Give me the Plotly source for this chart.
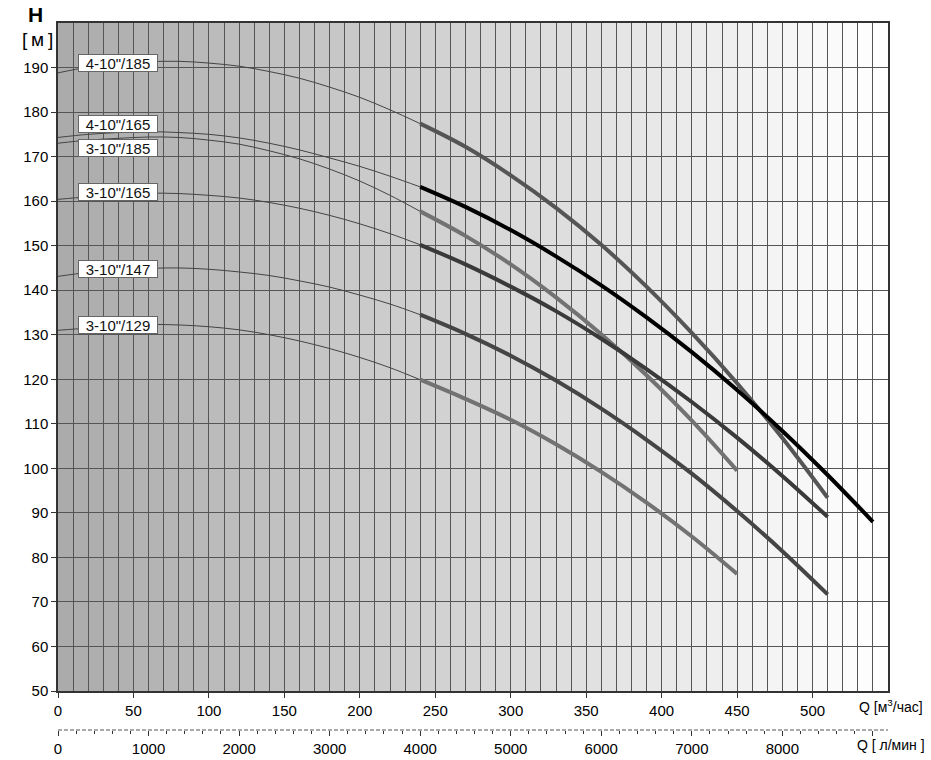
import plotly.graph_objects as go

# ---------------- data ----------------
q_thin = [0, 20, 40, 60, 80, 100, 120, 140, 160, 180, 200, 220, 240]

h_thin_4_185 = [188.8, 190.1, 190.9, 191.3, 191.4, 191.0, 190.3, 189.1, 187.6, 185.6, 183.3, 180.5, 177.4]
h_thin_4_165 = [174.3, 175.0, 175.4, 175.6, 175.4, 175.0, 174.2, 173.0, 171.5, 169.7, 167.8, 165.6, 163.2]
h_thin_3_185 = [173.0, 173.7, 174.1, 174.4, 174.3, 173.7, 172.8, 171.3, 169.5, 167.2, 164.5, 161.3, 157.7]
h_thin_3_165 = [160.4, 161.0, 161.6, 161.8, 161.7, 161.3, 160.7, 159.7, 158.4, 156.8, 154.9, 152.7, 150.2]
h_thin_3_147 = [143.1, 144.0, 144.6, 144.9, 145.0, 144.7, 144.1, 143.3, 142.1, 140.7, 138.9, 136.9, 134.5]
h_thin_3_129 = [131.0, 131.5, 132.0, 132.3, 132.2, 131.8, 131.1, 130.0, 128.6, 126.9, 124.9, 122.6, 119.9]

q_thick_4_185 = [240, 270, 300, 330, 360, 390, 420, 450, 480, 510]
h_thick_4_185 = [177.4, 172.2, 165.8, 158.5, 150.2, 140.8, 130.4, 119.1, 106.8, 93.4]
q_thick_4_165 = [240, 270, 300, 330, 360, 390, 420, 450, 480, 510, 540]
h_thick_4_165 = [163.2, 158.7, 153.5, 147.6, 141.1, 133.9, 126.1, 117.6, 108.4, 98.5, 88.0]
q_thick_3_185 = [240, 270, 300, 330, 360, 390, 420, 450]
h_thick_3_185 = [157.7, 152.2, 145.8, 138.4, 130.1, 120.9, 110.7, 99.5]
q_thick_3_165 = [240, 270, 300, 330, 360, 390, 420, 450, 480, 510]
h_thick_3_165 = [150.2, 145.8, 140.8, 135.3, 129.1, 122.3, 114.9, 106.9, 98.3, 89.1]
q_thick_3_147 = [240, 270, 300, 330, 360, 390, 420, 450, 480, 510]
h_thick_3_147 = [134.5, 130.2, 125.3, 119.7, 113.4, 106.4, 98.8, 90.4, 81.4, 71.7]
q_thick_3_129 = [240, 270, 300, 330, 360, 390, 420, 450]
h_thick_3_129 = [119.9, 115.6, 110.9, 105.4, 99.2, 92.3, 84.7, 76.3]

pump_names = ['4-10"/185', '4-10"/165', '3-10"/185', '3-10"/165', '3-10"/147', '3-10"/129']
label_h = [191.0, 177.3, 172.0, 162.1, 144.7, 132.2]
label_q = 40

q_tick_vals = [0, 50, 100, 150, 200, 250, 300, 350, 400, 450, 500]
h_tick_vals = [50, 60, 70, 80, 90, 100, 110, 120, 130, 140, 150, 160, 170, 180, 190]
lmin_tick_vals = [0, 1000, 2000, 3000, 4000, 5000, 6000, 7000, 8000, 9000]
lmin_tick_text = ["0", "1000", "2000", "3000", "4000", "5000", "6000", "7000", "8000", " "]

Q_MAX = 550
H_MIN, H_MAX = 50, 200

# ---------------- figure ----------------
FONT = "Liberation Sans, Arial, sans-serif"
fig = go.Figure()

thin = [h_thin_4_185, h_thin_4_165, h_thin_3_185, h_thin_3_165, h_thin_3_147, h_thin_3_129]
thick = [
    (q_thick_4_185, h_thick_4_185, "#555555"),
    (q_thick_4_165, h_thick_4_165, "#000000"),
    (q_thick_3_185, h_thick_3_185, "#727272"),
    (q_thick_3_165, h_thick_3_165, "#3a3a3a"),
    (q_thick_3_147, h_thick_3_147, "#454545"),
    (q_thick_3_129, h_thick_3_129, "#727272"),
]

for name, h in zip(pump_names, thin):
    fig.add_trace(go.Scatter(x=q_thin, y=h, mode="lines", line=dict(color="#444444", width=1, shape="spline"),
                             showlegend=False, hoverinfo="skip", name=name))
for name, (q, h, c) in zip(pump_names, thick):
    fig.add_trace(go.Scatter(x=q, y=h, mode="lines", line=dict(color=c, width=4, shape="spline"),
                             showlegend=False, name=name))

# invisible trace to activate the l/min axis
fig.add_trace(go.Scatter(x=[0], y=[None], xaxis="x2", yaxis="y", mode="lines",
                         showlegend=False, hoverinfo="skip"))

# background gradient bands (one per 10 m3/h cell)
n_cells = Q_MAX // 10
shapes = []
for i in range(n_cells):
    g = round(171 + (255 - 171) * i / (n_cells - 1))
    shapes.append(dict(type="rect", xref="x", yref="y", x0=i * 10, x1=(i + 1) * 10, y0=H_MIN, y1=H_MAX,
                       fillcolor=f"rgb({g},{g},{g})", line=dict(width=0), layer="below"))
# dashed l/min axis line
shapes.append(dict(type="line", xref="x2", yref="paper", x0=0, x1=Q_MAX * 1000 / 60, y0=0, y1=0,
                   line=dict(color="#555555", width=1, dash="4px,2px")))

annotations = []
for name, hy in zip(pump_names, label_h):
    annotations.append(dict(x=label_q, y=hy, xref="x", yref="y", text=name, showarrow=False,
                            xanchor="center", yanchor="middle",
                            font=dict(family=FONT, size=15, color="#111111"),
                            bgcolor="white", bordercolor="#666666", borderwidth=1, borderpad=1,
                            width=76, height=14))
annotations += [
    dict(x=-0.0277, y=1.012, xref="paper", yref="paper", text="<b>H</b>", showarrow=False,
         xanchor="center", yanchor="middle", font=dict(family=FONT, size=21, color="#000000")),
    dict(x=-0.0253, y=0.977, xref="paper", yref="paper", text="[\u2009м\u2009]", showarrow=False,
         xanchor="center", yanchor="middle", font=dict(family=FONT, size=19, color="#000000")),
    dict(x=1.0036, y=0.034, xref="paper", yref="paper", text="Q [м<sup>3</sup>/час]", showarrow=False,
         xanchor="center", yanchor="middle", font=dict(family=FONT, size=14, color="#000000")),
    dict(x=1.0036, y=-0.021, xref="paper", yref="paper", text="Q [ л/мин ]", showarrow=False,
         xanchor="center", yanchor="middle", font=dict(family=FONT, size=14, color="#000000")),
]

ydom0 = 39 / 707
fig.update_layout(
    width=931, height=760,
    margin=dict(l=58, r=43, t=23, b=30),
    plot_bgcolor="white", paper_bgcolor="white",
    font=dict(family=FONT, size=15, color="#000000"),
    shapes=shapes, annotations=annotations,
    xaxis=dict(range=[0, Q_MAX], tickmode="array", tickvals=q_tick_vals,
               ticks="outside", ticklen=5, tickcolor="#333333",
               showgrid=True, gridcolor="#555555", gridwidth=1,
               minor=dict(dtick=10, tick0=0, showgrid=True, gridcolor="#555555", gridwidth=1, ticks=""),
               showline=True, linecolor="#333333", linewidth=1.5, mirror=True,
               zeroline=False, tickfont=dict(size=15), anchor="y", automargin=False),
    yaxis=dict(range=[H_MIN, H_MAX], domain=[ydom0, 1], tickmode="array", tickvals=h_tick_vals,
               ticks="outside", ticklen=5, tickcolor="#333333",
               showgrid=True, gridcolor="#555555", gridwidth=1,
               showline=True, linecolor="#333333", linewidth=1.5, mirror=True,
               zeroline=False, tickfont=dict(size=15), automargin=False),
    xaxis2=dict(range=[0, Q_MAX * 1000 / 60], overlaying="x", anchor="free", position=0, side="bottom",
                tickmode="array", tickvals=lmin_tick_vals, ticktext=lmin_tick_text,
                ticks="outside", ticklen=5, tickcolor="#333333",
                minor=dict(dtick=200, tick0=0, ticks="outside", ticklen=3, tickcolor="#333333", showgrid=False),
                showgrid=False, showline=False, zeroline=False, tickfont=dict(size=15), automargin=False),
)

fig.write_html("out.html", config={"displayModeBar": False},
               post_script="document.body.style.margin='0px';")
